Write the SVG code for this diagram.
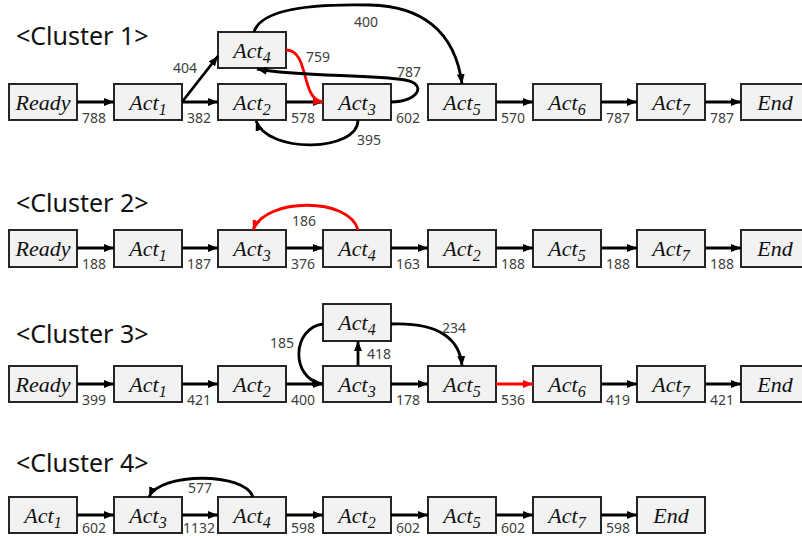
<svg xmlns="http://www.w3.org/2000/svg" width="802" height="536" viewBox="0 0 802 536">
<style>
.box{fill:#f2f2f2;stroke:#262626;stroke-width:2}
.n{font-family:"Liberation Serif",serif;font-style:italic;font-size:22px;fill:#111;text-anchor:middle}
.sub{font-size:16px}
.t{font-family:"Noto Sans",sans-serif;font-size:25px;fill:#111}
.l{font-family:"Noto Sans",sans-serif;font-size:14px;fill:#404040}
.e{fill:none;stroke:#000;stroke-width:2.8;marker-end:url(#ah)}
.r{fill:none;stroke:#f00;stroke-width:2.8;marker-end:url(#ahr)}
</style>
<defs>
<marker id="ah" markerUnits="userSpaceOnUse" markerWidth="10" markerHeight="8" refX="10" refY="4" orient="auto"><path d="M0,0 L10,4 L0,8 z" fill="#000"/></marker>
<marker id="ahr" markerUnits="userSpaceOnUse" markerWidth="10" markerHeight="8" refX="10" refY="4" orient="auto"><path d="M0,0 L10,4 L0,8 z" fill="#f00"/></marker>
</defs>
<rect width="802" height="536" fill="#fff"/>

<!-- titles -->
<text class="t" x="16" y="45">&lt;Cluster 1&gt;</text>
<text class="t" x="16" y="212">&lt;Cluster 2&gt;</text>
<text class="t" x="16" y="343">&lt;Cluster 3&gt;</text>
<text class="t" x="16" y="472">&lt;Cluster 4&gt;</text>

<!-- Cluster 1 nodes -->
<g id="c1-ready"><rect class="box" x="9" y="84" width="68" height="36"/><text class="n" x="43" y="110">Ready</text></g>
<g id="c1-act1"><rect class="box" x="114" y="84" width="68" height="36"/><text class="n" x="148" y="110">Act<tspan class="sub" dy="5">1</tspan></text></g>
<g id="c1-act4"><rect class="box" x="218" y="32" width="68" height="36"/><text class="n" x="252" y="58">Act<tspan class="sub" dy="5">4</tspan></text></g>
<g id="c1-act2"><rect class="box" x="218" y="84" width="68" height="36"/><text class="n" x="252" y="110">Act<tspan class="sub" dy="5">2</tspan></text></g>
<g id="c1-act3"><rect class="box" x="323" y="84" width="68" height="36"/><text class="n" x="357" y="110">Act<tspan class="sub" dy="5">3</tspan></text></g>
<g id="c1-act5"><rect class="box" x="428" y="84" width="68" height="36"/><text class="n" x="462" y="110">Act<tspan class="sub" dy="5">5</tspan></text></g>
<g id="c1-act6"><rect class="box" x="533" y="84" width="68" height="36"/><text class="n" x="567" y="110">Act<tspan class="sub" dy="5">6</tspan></text></g>
<g id="c1-act7"><rect class="box" x="637" y="84" width="68" height="36"/><text class="n" x="671" y="110">Act<tspan class="sub" dy="5">7</tspan></text></g>
<g id="c1-end"><rect class="box" x="741" y="84" width="68" height="36"/><text class="n" x="775" y="110">End</text></g>

<!-- Cluster 2 nodes -->
<g id="c2-ready"><rect class="box" x="9" y="230" width="68" height="37"/><text class="n" x="43" y="256">Ready</text></g>
<g id="c2-act1"><rect class="box" x="114" y="230" width="68" height="37"/><text class="n" x="148" y="256">Act<tspan class="sub" dy="5">1</tspan></text></g>
<g id="c2-act3"><rect class="box" x="218" y="230" width="68" height="37"/><text class="n" x="252" y="256">Act<tspan class="sub" dy="5">3</tspan></text></g>
<g id="c2-act4"><rect class="box" x="323" y="230" width="68" height="37"/><text class="n" x="357" y="256">Act<tspan class="sub" dy="5">4</tspan></text></g>
<g id="c2-act2"><rect class="box" x="428" y="230" width="68" height="37"/><text class="n" x="462" y="256">Act<tspan class="sub" dy="5">2</tspan></text></g>
<g id="c2-act5"><rect class="box" x="533" y="230" width="68" height="37"/><text class="n" x="567" y="256">Act<tspan class="sub" dy="5">5</tspan></text></g>
<g id="c2-act7"><rect class="box" x="637" y="230" width="68" height="37"/><text class="n" x="671" y="256">Act<tspan class="sub" dy="5">7</tspan></text></g>
<g id="c2-end"><rect class="box" x="741" y="230" width="68" height="37"/><text class="n" x="775" y="256">End</text></g>

<!-- Cluster 3 nodes -->
<g id="c3-ready"><rect class="box" x="9" y="366" width="68" height="36"/><text class="n" x="43" y="392">Ready</text></g>
<g id="c3-act1"><rect class="box" x="114" y="366" width="68" height="36"/><text class="n" x="148" y="392">Act<tspan class="sub" dy="5">1</tspan></text></g>
<g id="c3-act2"><rect class="box" x="218" y="366" width="68" height="36"/><text class="n" x="252" y="392">Act<tspan class="sub" dy="5">2</tspan></text></g>
<g id="c3-act4"><rect class="box" x="323" y="304" width="68" height="37"/><text class="n" x="357" y="330">Act<tspan class="sub" dy="5">4</tspan></text></g>
<g id="c3-act3"><rect class="box" x="323" y="366" width="68" height="36"/><text class="n" x="357" y="392">Act<tspan class="sub" dy="5">3</tspan></text></g>
<g id="c3-act5"><rect class="box" x="428" y="366" width="68" height="36"/><text class="n" x="462" y="392">Act<tspan class="sub" dy="5">5</tspan></text></g>
<g id="c3-act6"><rect class="box" x="533" y="366" width="68" height="36"/><text class="n" x="567" y="392">Act<tspan class="sub" dy="5">6</tspan></text></g>
<g id="c3-act7"><rect class="box" x="637" y="366" width="68" height="36"/><text class="n" x="671" y="392">Act<tspan class="sub" dy="5">7</tspan></text></g>
<g id="c3-end"><rect class="box" x="741" y="366" width="68" height="36"/><text class="n" x="775" y="392">End</text></g>

<!-- Cluster 4 nodes -->
<g id="c4-act1"><rect class="box" x="9" y="497" width="68" height="36"/><text class="n" x="43" y="523">Act<tspan class="sub" dy="5">1</tspan></text></g>
<g id="c4-act3"><rect class="box" x="114" y="497" width="68" height="36"/><text class="n" x="148" y="523">Act<tspan class="sub" dy="5">3</tspan></text></g>
<g id="c4-act4"><rect class="box" x="218" y="497" width="68" height="36"/><text class="n" x="252" y="523">Act<tspan class="sub" dy="5">4</tspan></text></g>
<g id="c4-act2"><rect class="box" x="323" y="497" width="68" height="36"/><text class="n" x="357" y="523">Act<tspan class="sub" dy="5">2</tspan></text></g>
<g id="c4-act5"><rect class="box" x="428" y="497" width="68" height="36"/><text class="n" x="462" y="523">Act<tspan class="sub" dy="5">5</tspan></text></g>
<g id="c4-act7"><rect class="box" x="533" y="497" width="68" height="36"/><text class="n" x="567" y="523">Act<tspan class="sub" dy="5">7</tspan></text></g>
<g id="c4-end"><rect class="box" x="637" y="497" width="68" height="36"/><text class="n" x="671" y="523">End</text></g>

<g id="connectors">
<!-- Cluster 1 -->
<path class="e" d="M77,102 H114"/>
<path class="e" d="M182,102 L218,56"/>
<path class="e" d="M182,102 H218"/>
<path class="e" d="M286,102 H323"/>
<path class="r" d="M286,50 C310,50 300,100 323,102"/>
<path class="e" d="M391,102 C418,102 428,84 405,80 C370,74 300,77 257,69"/>
<path class="e" d="M358,120 C358,152 268,154 256,121"/>
<path class="e" d="M254,32 C262,5 330,4 370,5 C420,6 455,30 462,84"/>
<path class="e" d="M496,102 H533"/>
<path class="e" d="M601,102 H637"/>
<path class="e" d="M705,102 H741"/>
<text class="l" x="82" y="123">788</text>
<text class="l" x="187" y="123">382</text>
<text class="l" x="291" y="123">578</text>
<text class="l" x="396" y="123">602</text>
<text class="l" x="501" y="123">570</text>
<text class="l" x="606" y="123">787</text>
<text class="l" x="710" y="123">787</text>
<text class="l" x="173" y="73">404</text>
<text class="l" x="306" y="62">759</text>
<text class="l" x="397" y="77">787</text>
<text class="l" x="357" y="145">395</text>
<text class="l" x="354" y="27">400</text>
<!-- Cluster 2 -->
<path class="e" d="M77,248 H114"/>
<path class="e" d="M182,248 H218"/>
<path class="e" d="M286,248 H323"/>
<path class="e" d="M391,248 H428"/>
<path class="e" d="M496,248 H533"/>
<path class="e" d="M601,248 H637"/>
<path class="e" d="M705,248 H741"/>
<path class="r" d="M358,230 C350,197 265,197 253,230"/>
<text class="l" x="82" y="269">188</text>
<text class="l" x="187" y="269">187</text>
<text class="l" x="291" y="269">376</text>
<text class="l" x="396" y="269">163</text>
<text class="l" x="501" y="269">188</text>
<text class="l" x="606" y="269">188</text>
<text class="l" x="710" y="269">188</text>
<text class="l" x="292" y="226">186</text>
<!-- Cluster 3 -->
<path class="e" d="M77,384 H114"/>
<path class="e" d="M182,384 H218"/>
<path class="e" d="M286,384 H323"/>
<path class="e" d="M391,384 H428"/>
<path class="r" d="M496,384 H533"/>
<path class="e" d="M601,384 H637"/>
<path class="e" d="M705,384 H741"/>
<path class="e" d="M358,366 V341"/>
<path class="e" d="M323,324 C292,328 290,378 322,384"/>
<path class="e" d="M391,324 C440,322 460,340 462,366"/>
<text class="l" x="82" y="405">399</text>
<text class="l" x="187" y="405">421</text>
<text class="l" x="291" y="405">400</text>
<text class="l" x="396" y="405">178</text>
<text class="l" x="501" y="405">536</text>
<text class="l" x="606" y="405">419</text>
<text class="l" x="710" y="405">421</text>
<text class="l" x="367" y="359">418</text>
<text class="l" x="270" y="348">185</text>
<text class="l" x="442" y="333">234</text>
<!-- Cluster 4 -->
<path class="e" d="M77,515 H114"/>
<path class="e" d="M182,515 H218"/>
<path class="e" d="M286,515 H323"/>
<path class="e" d="M391,515 H428"/>
<path class="e" d="M496,515 H533"/>
<path class="e" d="M601,515 H637"/>
<path class="e" d="M253,497 C245,472 160,472 149,497"/>
<text class="l" x="82" y="533">602</text>
<text class="l" x="183" y="533">1132</text>
<text class="l" x="291" y="533">598</text>
<text class="l" x="396" y="533">602</text>
<text class="l" x="501" y="533">602</text>
<text class="l" x="606" y="533">598</text>
<text class="l" x="188" y="493">577</text>
</g>
</svg>
